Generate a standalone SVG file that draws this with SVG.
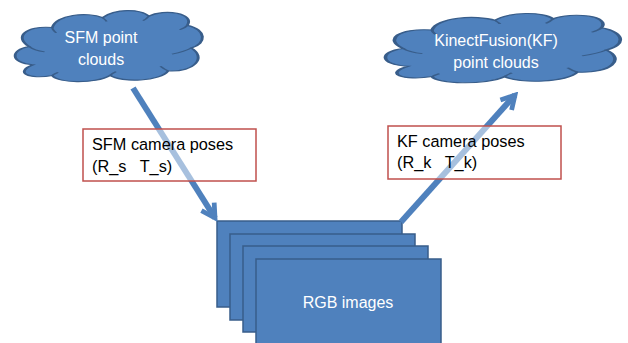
<svg xmlns="http://www.w3.org/2000/svg" width="628" height="343" viewBox="0 0 628 343">
<style>
.shape{fill:#4f81bd;stroke:#385d8a;stroke-width:1.5}
.cloud{fill:#4f81bd;stroke:#385d8a;stroke-width:1.5;vector-effect:non-scaling-stroke}
.inner{fill:none;stroke:#385d8a;stroke-width:1.2;vector-effect:non-scaling-stroke}
.wt{font-family:"Liberation Sans",Arial,sans-serif;font-size:16px;fill:#ffffff;text-anchor:middle}
.bt{font-family:"Liberation Sans",Arial,sans-serif;font-size:16.3px;fill:#000000}
.lbl{fill:#ffffff;fill-opacity:0.5;stroke:#c0504d;stroke-width:1.5}
.conn{stroke:#4f81bd;stroke-width:6;fill:none;marker-end:url(#head)}
</style>
<defs>
<marker id="head" viewBox="0 0 10 10" refX="8" refY="5" markerWidth="3.3" markerHeight="3.3" orient="auto" markerUnits="strokeWidth">
<path d="M1.2,1.2 L8,5 L1.2,8.8" fill="none" stroke="#4f81bd" stroke-width="2.4" stroke-linejoin="miter"/>
</marker>
<path id="cloudp" d="M14,76 C2,74 2,56 12,52 C4,40 10,24 24,27 C26,10 42,6 50,14 C56,2 70,2 74,12 C82,2 98,8 94,24 C104,30 104,48 96,54 C104,66 98,86 84,84 C80,98 60,100 54,90 C46,102 26,100 24,90 C12,96 4,86 14,76 Z"/>
<path id="innerp" d="M12,52 C14,56 17,58 20,59 M24,27 C24,30 25,32 26,34 M50,14 C51,16 52,18 52,19 M74,12 C73,15 72,17 71,18 M94,24 C93,27 91,29 90,30 M96,54 C93,58 90,60 86,62 M84,84 C82,82 81,80 80,78 M54,90 C55,87 56,86 57,85 M24,90 C25,88 26,87 27,86"/>
</defs>
<g id="rgb-images">
<rect class="shape" x="217" y="221" width="185" height="86"/>
<rect class="shape" x="230" y="234" width="185" height="86"/>
<rect class="shape" x="243" y="246" width="185" height="86"/>
<rect class="shape" x="256" y="259" width="185" height="90"/>
<text class="wt" x="348" y="308">RGB images</text>
</g>
<g id="sfm-cloud">
<g transform="translate(6,7) scale(1.93,0.76)">
<use href="#cloudp" class="cloud"/>
<use href="#innerp" class="inner"/>
</g>
<text class="wt" x="101" y="43">SFM point</text>
<text class="wt" x="101" y="65">clouds</text>
</g>
<g id="kf-cloud">
<g transform="translate(374,10) scale(2.42,0.74)">
<use href="#cloudp" class="cloud"/>
<use href="#innerp" class="inner"/>
</g>
<text class="wt" x="496" y="46">KinectFusion(KF)</text>
<text class="wt" x="496" y="68">point clouds</text>
</g>
<g id="connectors">
<line class="conn" x1="133" y1="88" x2="215" y2="218"/>
<line class="conn" x1="401" y1="222" x2="515" y2="95"/>
</g>
<g id="sfm-label">
<rect class="lbl" x="83" y="129" width="173" height="52"/>
<text class="bt" x="92" y="150">SFM camera poses</text>
<text class="bt" x="92" y="172" xml:space="preserve">(R_s   T_s)</text>
</g>
<g id="kf-label">
<rect class="lbl" x="388" y="126" width="173" height="53"/>
<text class="bt" x="397" y="147">KF camera poses</text>
<text class="bt" x="397" y="168" xml:space="preserve">(R_k   T_k)</text>
</g>
</svg>
